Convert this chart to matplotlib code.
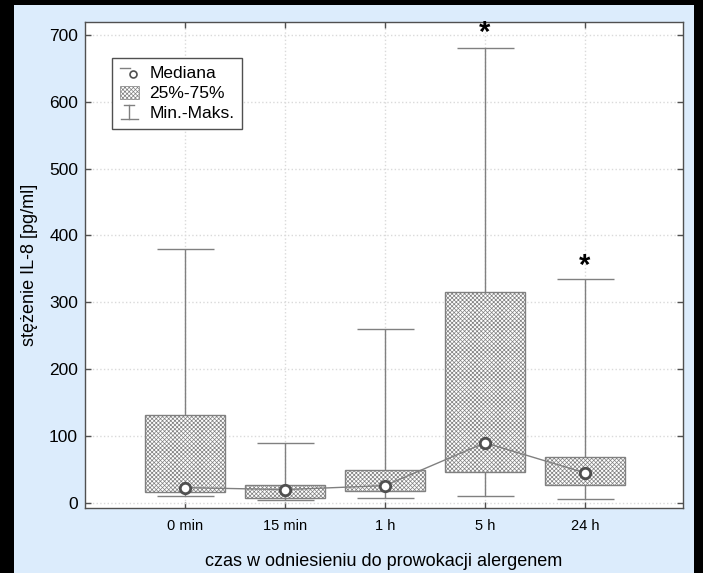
import matplotlib
matplotlib.use("Agg")
import matplotlib.pyplot as plt
import numpy as np
from matplotlib.patches import Rectangle
from matplotlib.lines import Line2D
from matplotlib.legend_handler import HandlerBase

# values (IL-8, pg/ml)
categories = ["0 min", "15 min", "1 h", "5 h", "24 h"]
val_min = [10, 4, 7, 10, 6]
val_q1 = [17, 7, 18, 46, 27]
val_median = [23, 20, 26, 90, 45]
val_q3 = [132, 27, 49, 315, 69]
val_max = [380, 90, 260, 680, 335]
star_idx = [3, 4]
star_val = [703, 355]
y_ticks = [0, 100, 200, 300, 400, 500, 600, 700]

plt.rcParams["font.family"] = ["Liberation Sans", "DejaVu Sans"]
plt.rcParams["hatch.linewidth"] = 0.5

GRAY = "#808080"
DARK = "#505050"


class MinMaxHandler(HandlerBase):
    """Legend symbol for the min-max whisker (short top cap, stem, base)."""
    def create_artists(self, legend, orig_handle, xdescent, ydescent,
                       width, height, fontsize, trans):
        cx = width / 2 - xdescent
        top = height * 1.05
        bot = -height * 0.05
        arts = [
            Line2D([cx - width * 0.25, cx + width * 0.25], [top, top]),
            Line2D([cx, cx], [bot, top]),
            Line2D([cx - width * 0.45, cx + width * 0.45], [bot, bot]),
        ]
        for a in arts:
            a.set_color(GRAY)
            a.set_linewidth(1)
            a.set_transform(trans)
        return arts


class MedianHandler(HandlerBase):
    def create_artists(self, legend, orig_handle, xdescent, ydescent,
                       width, height, fontsize, trans):
        ln = Line2D([-xdescent, width * 0.55], [height * 0.75, height * 0.75],
                    color=GRAY, lw=1, transform=trans)
        mk = Line2D([width * 0.72], [height * 0.35], marker="o", ls="none",
                    ms=5, mfc="white", mec=DARK, mew=1.2, transform=trans)
        return [ln, mk]


fig = plt.figure(figsize=(7.03, 5.73), dpi=100, facecolor="black")
fig.add_artist(Rectangle((14 / 703, 0), 680 / 703, 568 / 573,
                         transform=fig.transFigure, facecolor="#dcecfc",
                         edgecolor="none", zorder=-1))
ax = fig.add_axes([85 / 703, 65 / 573, 598 / 703, 486 / 573])
ax.set_facecolor("white")

x = np.arange(len(categories))
q1 = np.array(val_q1)
q3 = np.array(val_q3)

ax.vlines(x, val_min, val_q1, color=GRAY, lw=1, zorder=2)
ax.vlines(x, val_q3, val_max, color=GRAY, lw=1, zorder=2)
ax.hlines(val_min, x - 0.285, x + 0.285, color=GRAY, lw=1, zorder=2)
ax.hlines(val_max, x - 0.285, x + 0.285, color=GRAY, lw=1, zorder=2)
ax.bar(x, q3 - q1, bottom=q1, width=0.8, facecolor="white",
       edgecolor=GRAY, hatch="xxxxxxxx", linewidth=1, zorder=3)
ax.plot(x, val_median, color=GRAY, lw=1, zorder=4)
ax.plot(x, val_median, "o", ms=7.5, mfc="white", mec=DARK, mew=2, zorder=5)

for i, v in zip(star_idx, star_val):
    ax.text(x[i], v, "*", ha="center", va="center", fontsize=21,
            fontweight="bold", color="black", zorder=6)

ax.set_xlim(-1, 4.98)
ax.set_ylim(-7.5, 719)
ax.set_xticks(x)
ax.set_xticklabels(categories, fontsize=10.5)
ax.set_yticks(y_ticks)
ax.tick_params(axis="y", labelsize=12.5, pad=5)
ax.tick_params(axis="x", pad=8)
ax.tick_params(direction="in", length=4, width=1, color=DARK,
               top=True, right=True)
ax.grid(True, color="#dadada", linestyle=":", linewidth=1, zorder=0)
ax.set_axisbelow(True)
for s in ax.spines.values():
    s.set_color(DARK)
    s.set_linewidth(1)

ax.set_xlabel("czas w odniesieniu do prowokacji alergenem", fontsize=13,
              labelpad=14)
ax.set_ylabel("stężenie IL-8 [pg/ml]", fontsize=13, labelpad=8)

h_med = Line2D([], [])
h_box = Rectangle((0, 0), 1, 1, facecolor="white", edgecolor=GRAY,
                  hatch="xxxxxxxx", linewidth=0.5)
h_rng = Line2D([], [], color=GRAY)
leg = ax.legend([h_med, h_box, h_rng], ["Mediana", "25%-75%", "Min.-Maks."],
                handler_map={h_med: MedianHandler(), h_rng: MinMaxHandler()},
                loc="upper left", bbox_to_anchor=(0.045, 0.926),
                borderaxespad=0, fontsize=12.5, fancybox=False, framealpha=1,
                edgecolor=DARK, handlelength=1.1, handleheight=0.8,
                handletextpad=0.6, labelspacing=0.25, borderpad=0.45)
leg.get_frame().set_linewidth(1)

fig.savefig("out.png", dpi=100, facecolor=fig.get_facecolor())
